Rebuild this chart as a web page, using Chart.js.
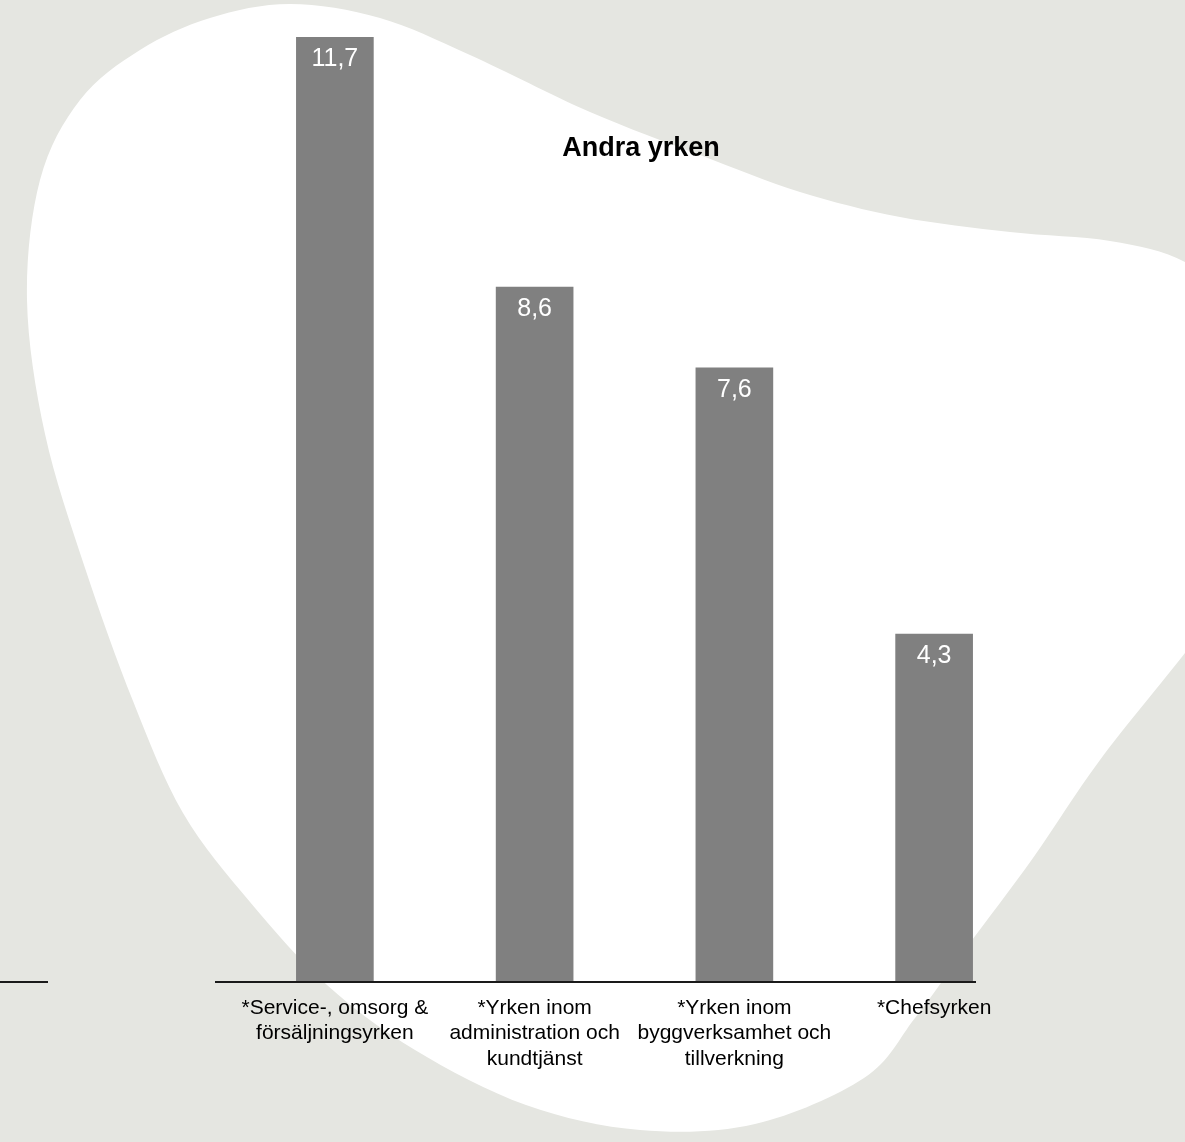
<!DOCTYPE html>
<html>
<head>
<meta charset="utf-8">
<script src="https://cdn.jsdelivr.net/npm/chart.js@4.4.1/dist/chart.umd.min.js"></script>
<style>
  html, body { margin: 0; padding: 0; background: #e5e6e1; }
  #wrap { width: 1185px; height: 1142px; }
</style>
</head>
<body>
<div id="wrap"><canvas id="chart" width="1185" height="1142"></canvas></div>
<script>
// Andra yrken - share per occupation group
const categories = [
  ['*Service-, omsorg &', 'försäljningsyrken'],
  ['*Yrken inom', 'administration och', 'kundtjänst'],
  ['*Yrken inom', 'byggverksamhet och', 'tillverkning'],
  '*Chefsyrken'
];
const shares = [11.7, 8.6, 7.6, 4.3];
const chartTitle = 'Andra yrken';

const FONT = '"Liberation Sans", Arial, sans-serif';
const BG = '#e5e6e1';

// outline of the white decorative blob behind the chart
const blobOutline = [
  [290, 4], [380, 18], [470, 55], [590, 112], [700, 155], [800, 192],
  [900, 217], [1010, 232], [1110, 241], [1185, 262], [1240, 310],
  [1265, 450], [1240, 580], [1185, 653], [1100, 760], [1033, 858],
  [967, 947], [915, 1018], [864, 1078], [755, 1124], [640, 1130],
  [526, 1105], [415, 1050], [327, 985], [250, 902],
  [183, 813], [133, 701], [85, 568], [45, 434], [27, 300],
  [40, 180], [80, 100], [140, 50], [210, 18]
];

function traceBlob(ctx, pts) {
  const n = pts.length;
  ctx.beginPath();
  ctx.moveTo(pts[0][0], pts[0][1]);
  for (let i = 0; i < n; i++) {
    const p0 = pts[(i - 1 + n) % n], p1 = pts[i];
    const p2 = pts[(i + 1) % n], p3 = pts[(i + 2) % n];
    ctx.bezierCurveTo(
      p1[0] + (p2[0] - p0[0]) / 6, p1[1] + (p2[1] - p0[1]) / 6,
      p2[0] - (p3[0] - p1[0]) / 6, p2[1] - (p3[1] - p1[1]) / 6,
      p2[0], p2[1]
    );
  }
  ctx.closePath();
}

const backdrop = {
  id: 'backdrop',
  beforeDraw(chart) {
    const ctx = chart.ctx;
    ctx.save();
    ctx.fillStyle = BG;
    ctx.fillRect(0, 0, chart.width, chart.height);
    traceBlob(ctx, blobOutline);
    ctx.fillStyle = '#ffffff';
    ctx.fill();
    ctx.restore();
  }
};

const decorations = {
  id: 'decorations',
  afterDatasetsDraw(chart) {
    const ctx = chart.ctx;
    const y0 = chart.scales.y.getPixelForValue(0) + 1;
    ctx.save();

    // axis line and the short stub on the left
    ctx.strokeStyle = '#1a1a1a';
    ctx.lineWidth = 2;
    ctx.beginPath();
    ctx.moveTo(215, y0); ctx.lineTo(976, y0);
    ctx.moveTo(0, y0); ctx.lineTo(48, y0);
    ctx.stroke();

    // value labels inside the bars
    ctx.fillStyle = '#ffffff';
    ctx.font = '25px ' + FONT;
    ctx.textAlign = 'center';
    ctx.textBaseline = 'middle';
    chart.getDatasetMeta(0).data.forEach((bar, i) => {
      ctx.fillText(shares[i].toFixed(1).replace('.', ','), bar.x, bar.y + 22);
    });

    // title
    ctx.fillStyle = '#000000';
    ctx.font = 'bold 27px ' + FONT;
    ctx.fillText(chartTitle, 641, 149);
    ctx.restore();
  }
};

new Chart(document.getElementById('chart'), {
  type: 'bar',
  data: {
    labels: categories,
    datasets: [{
      data: shares,
      backgroundColor: '#808080',
      borderWidth: 0,
      barThickness: 77
    }]
  },
  options: {
    responsive: false,
    animation: false,
    devicePixelRatio: 1,
    layout: { padding: { left: 235, right: 151, top: 37, bottom: 0 } },
    plugins: {
      legend: { display: false },
      tooltip: { enabled: false },
      title: { display: false }
    },
    scales: {
      y: {
        display: false,
        min: 0,
        max: 11.7
      },
      x: {
        grid: { display: false, drawTicks: false },
        border: { display: false },
        afterFit: (scale) => { scale.height = 161; },
        ticks: {
          autoSkip: false,
          maxRotation: 0,
          minRotation: 0,
          padding: 14,
          color: '#000000',
          font: { family: FONT, size: 21, lineHeight: '25.5px' }
        }
      }
    }
  },
  plugins: [backdrop, decorations]
});
</script>
</body>
</html>
